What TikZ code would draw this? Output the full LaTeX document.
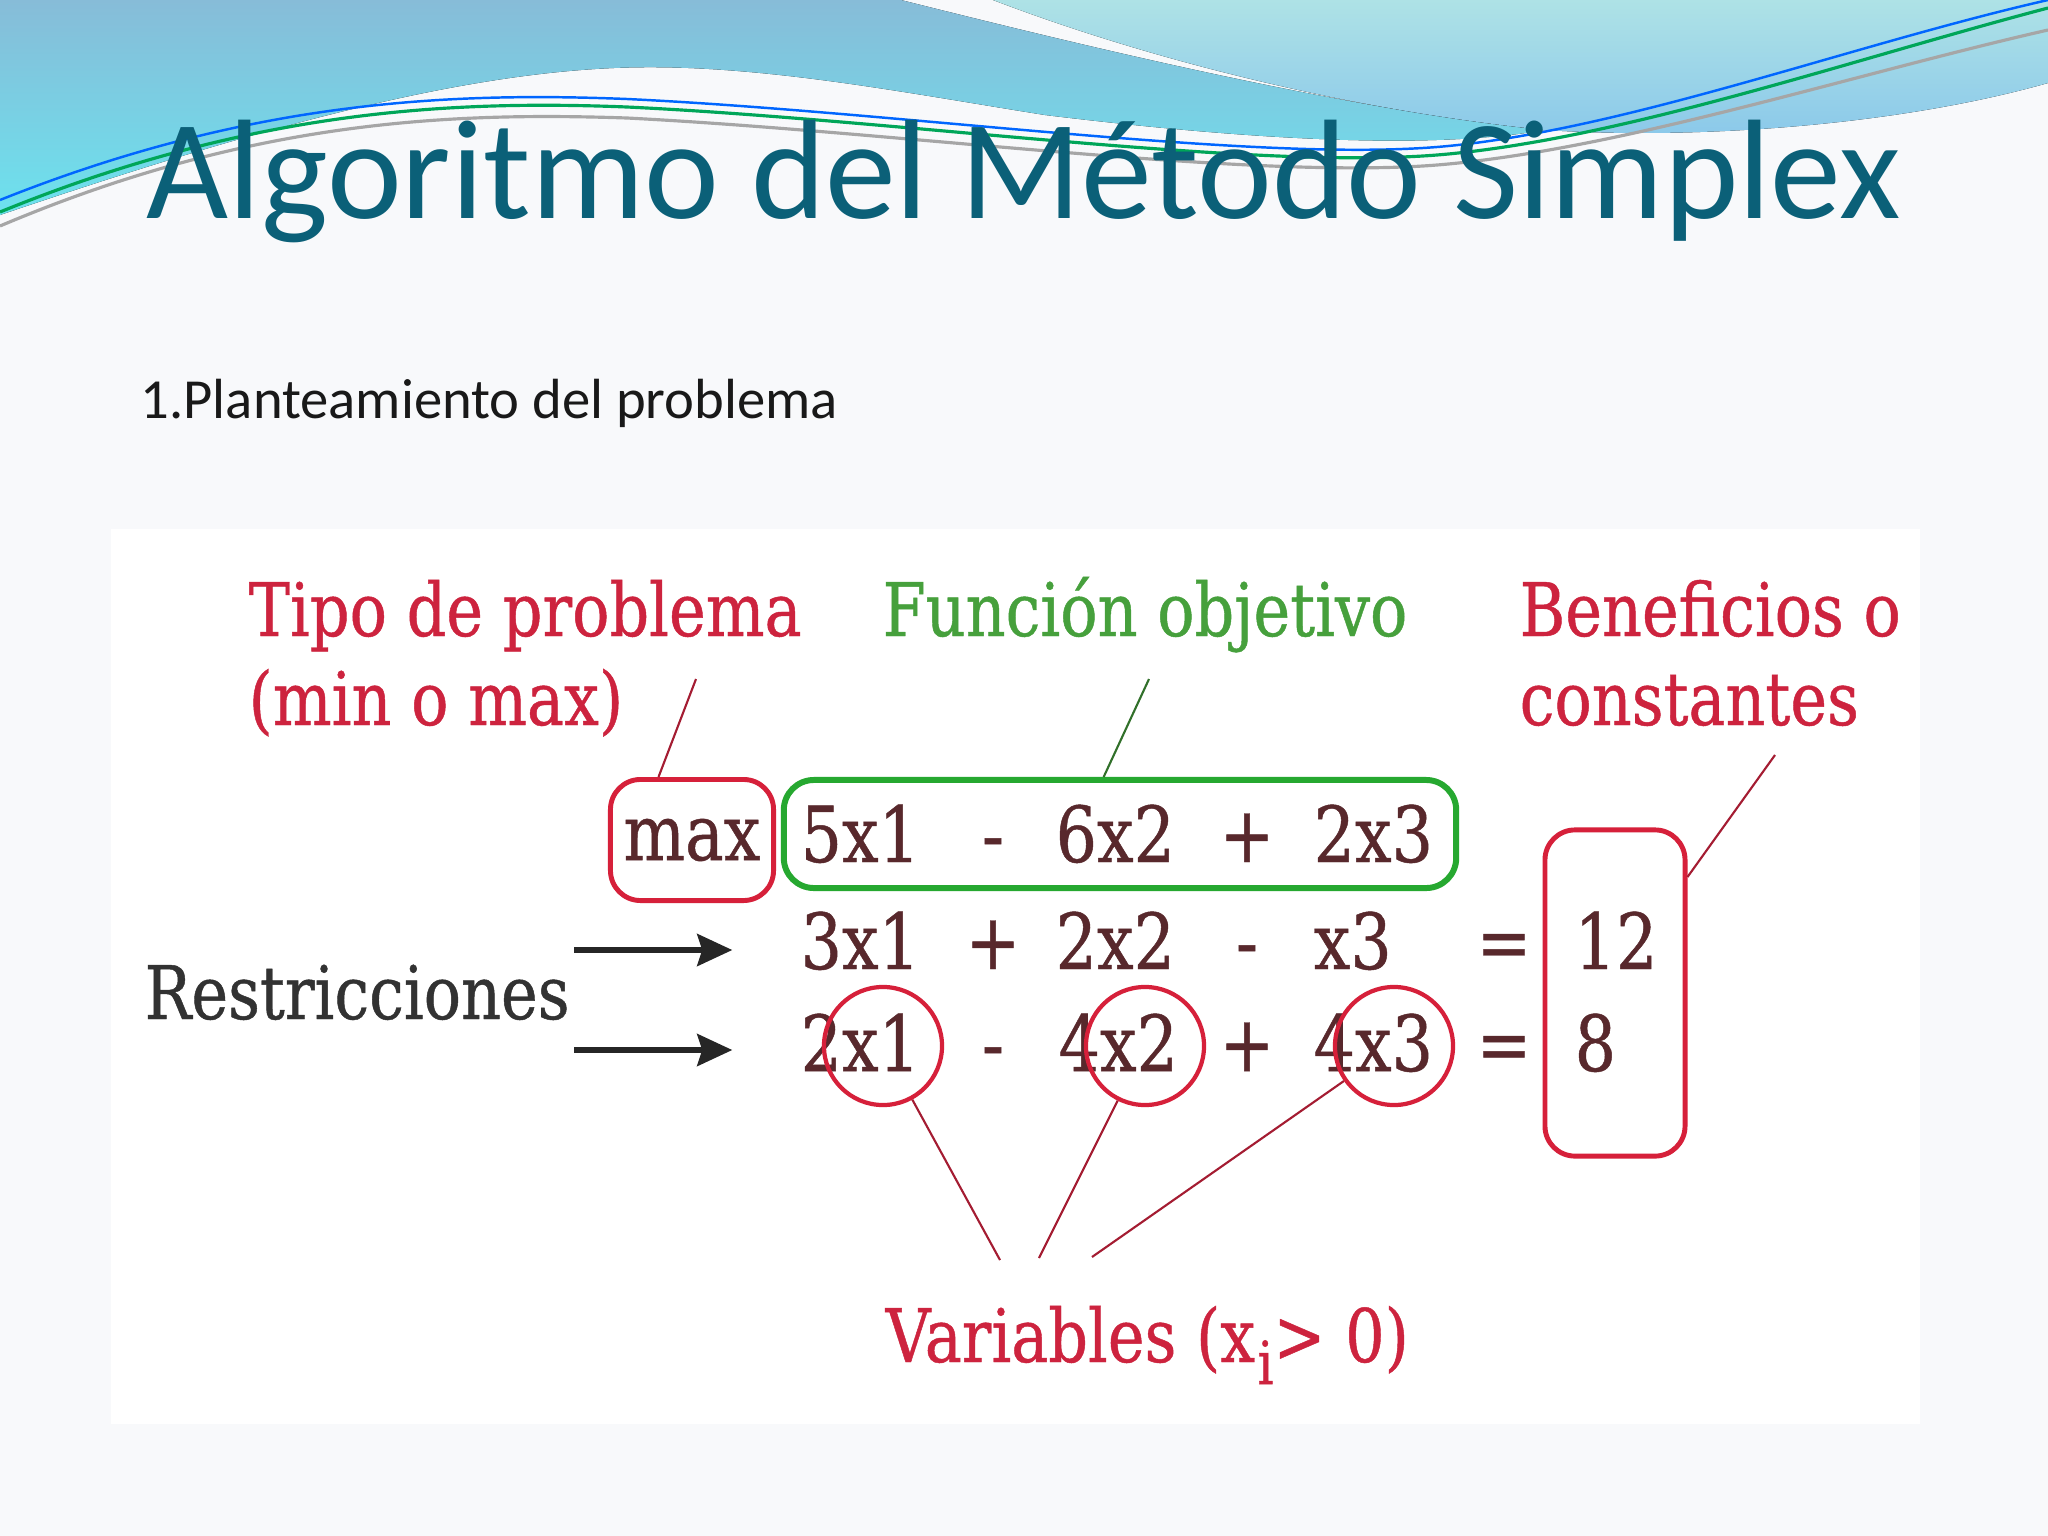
\documentclass[tikz,border=0pt]{standalone}
\usepackage{fontspec}
\setmainfont{Carlito}
\newfontfamily\imgfont[FakeStretch=0.84,FakeBold=0.6]{DejaVu Serif}
\usetikzlibrary{arrows.meta}
\definecolor{slidebg}{RGB}{248,249,251}
\definecolor{titleblue}{RGB}{11,96,120}
\definecolor{waveblue}{RGB}{135,188,216}
\definecolor{wavecyan}{RGB}{108,226,238}
\definecolor{palecyan}{RGB}{174,226,230}
\definecolor{bandblue}{RGB}{138,200,234}
\definecolor{labred}{RGB}{205,35,62}
\definecolor{boxred}{RGB}{214,32,58}
\definecolor{labgreen}{RGB}{70,160,60}
\definecolor{boxgreen}{RGB}{38,168,48}
\definecolor{termbrown}{RGB}{88,40,44}
\definecolor{restgray}{RGB}{50,50,50}

\begin{document}
\begin{tikzpicture}[x=0.01cm,y=-0.01cm,
		lbl/.style={font=\imgfont\fontsize{21}{25}\selectfont,text=labred,inner sep=0pt,anchor=base west},
		term/.style={font=\imgfont\fontsize{22}{26}\selectfont,text=termbrown,inner sep=0pt,anchor=base west},
		op/.style={term,anchor=base},
		redbox/.style={draw=boxred,line width=1.4pt,rounded corners=0.3cm},
		greenbox/.style={draw=boxgreen,line width=1.7pt,rounded corners=0.3cm},
		ring/.style={circle,draw=boxred,line width=1.2pt,minimum size=1.18cm},
		lead/.style={draw=labred!80!black,line width=0.6pt},
		restarrow/.style={-{Stealth[length=0.35cm,width=0.32cm,inset=0.05cm]},line width=1.5pt,black!85}]
	\fill[slidebg] (0,0) rectangle (2048,1536);
	\useasboundingbox (0,0) rectangle (2048,1536);
	\fill[white] (111,529) rectangle (1920,1424);
	
	\fill[top color=waveblue,bottom color=wavecyan] (0,0) -- (901,0) .. controls (1100,50) and (1350,110) .. (1545,130) .. controls (1430,150) and (1250,140) .. (1045,115) .. controls (900,92) and (750,62) .. (614,68) .. controls (450,75) and (250,130) .. (0,215) -- cycle;
	\fill[top color=palecyan,bottom color=bandblue] (993,0) -- (2048,0) -- (2048,83) .. controls (1900,125) and (1700,140) .. (1545,130) .. controls (1350,110) and (1150,60) .. (993,0) -- cycle;
	\draw[teal!70!green,line width=0.9pt] (0,212) .. controls (250,110) and (450,100) .. (627,107) .. controls (900,120) and (1250,170) .. (1437,155) .. controls (1620,140) and (1850,60) .. (2048,8);
	\draw[blue!60!cyan,line width=0.7pt] (0,200) .. controls (250,100) and (450,92) .. (627,99) .. controls (900,112) and (1250,162) .. (1437,147) .. controls (1620,132) and (1850,45) .. (2048,0);
	\draw[gray!70,line width=0.9pt] (0,226) .. controls (250,120) and (450,112) .. (627,118) .. controls (900,132) and (1250,180) .. (1437,165) .. controls (1620,150) and (1850,75) .. (2048,30);
	
	\node[anchor=base west,text=titleblue,font=\fontsize{40.3}{48}\selectfont,inner sep=0pt] (title) at (146,218) {Algoritmo del Método Simplex};
	\node[anchor=base west,text=black!90,font=\fontsize{16.1}{19}\selectfont,inner sep=0pt] (sub) at (140,418) {1.Planteamiento del problema};
	
	\node[lbl] (tipo) at (248,636) {Tipo de problema};
	\node[lbl] (minmax) at (248,725) {(min o max)};
	\node[lbl,text=labgreen] (func) at (882,636) {Función objetivo};
	\node[lbl] (benef) at (1519,636) {Beneficios o};
	\node[lbl] (const) at (1519,725) {constantes};
	\node[lbl,text=restgray] (restr) at (144,1019) {Restricciones};
	\node[lbl] (vars) at (885,1362) {Variables (x\kern0.03em\raisebox{-0.3em}{\fontsize{17}{20}\selectfont i}> 0)};
	
	\node[redbox,term,anchor=center,minimum width=1.63cm,minimum height=1.21cm] (maxbox) at (692,840) {max};
	\node[greenbox,minimum width=6.72cm,minimum height=1.08cm] (fobj) at (1120,834) {};
	\node[redbox,minimum width=1.4cm,minimum height=3.26cm] (bbox) at (1615,993) {};
	
	\node[term] (a1) at (800,862) {5x1};
	\node[op] (a2) at (993,862) {-};
	\node[term] (a3) at (1055,862) {6x2};
	\node[op] (a4) at (1247,862) {+};
	\node[term] (a5) at (1313,862) {2x3};
	
	\node[term] (b1) at (800,969) {3x1};
	\node[op] (b2) at (993,969) {+};
	\node[term] (b3) at (1055,969) {2x2};
	\node[op] (b4) at (1247,969) {-};
	\node[term] (b5) at (1313,969) {x3};
	\node[op] (b6) at (1504,969) {=};
	\node[term] (b7) at (1574,969) {12};
	
	\node[term] (c1) at (800,1071) {2x1};
	\node[op] (c2) at (993,1071) {-};
	\node[term] (c3) at (1058,1071) {4x2};
	\node[op] (c4) at (1247,1071) {+};
	\node[term] (c5) at (1313,1071) {4x3};
	\node[op] (c6) at (1504,1071) {=};
	\node[term] (c7) at (1574,1071) {8};
	
	\node[ring] (v1) at (883,1046) {};
	\node[ring] (v2) at (1145,1046) {};
	\node[ring] (v3) at (1394,1046) {};
	
	\coordinate (tipoend) at (696,679);
	\coordinate (funcend) at (1149,679);
	\coordinate (benefend) at (1775,755);
	\coordinate (vend1) at (1000,1260);
	\coordinate (vend2) at (1039,1258);
	\coordinate (vend3) at (1092,1257);
	\draw[lead] (maxbox.118) -- (tipoend);
	\draw[lead,draw=labgreen!70!black] (fobj.106) -- (funcend);
	\draw[lead] (bbox.58) -- (benefend);
	\draw[lead] (v1) -- (vend1);
	\draw[lead] (v2) -- (vend2);
	\draw[lead] (v3) -- (vend3);
	
	\draw[restarrow] (restr.east |- 0,950) ++(4,0) -- ++(158,0);
	\draw[restarrow] (restr.east |- 0,1050) ++(4,0) -- ++(158,0);
\end{tikzpicture}
\end{document}
